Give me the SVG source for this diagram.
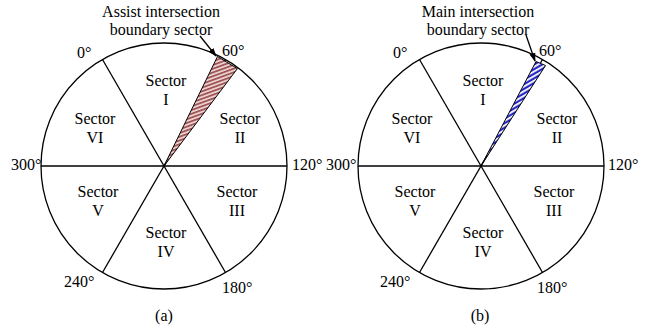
<svg xmlns="http://www.w3.org/2000/svg" width="655" height="331" viewBox="0 0 655 331">
<style>
  text { font-family: "Liberation Serif", "Times New Roman", serif; font-size: 16px; fill: #000; }
  .mid { text-anchor: middle; }
  .ln { stroke: #000; stroke-width: 1.3; fill: none; }
  .wedge { stroke: #000; stroke-width: 1; }
</style>
<defs>
  <pattern id="stripeRed" width="3.5" height="3.5" patternUnits="userSpaceOnUse" patternTransform="rotate(-20)">
    <rect width="3.5" height="3.5" fill="#f1dada"/>
    <rect width="3.5" height="1.9" fill="#a05656"/>
  </pattern>
  <pattern id="checkBlue" width="4" height="4" patternUnits="userSpaceOnUse" patternTransform="rotate(-30)">
    <rect width="4" height="4" fill="#2626c4"/>
    <rect x="0" y="0" width="4" height="1.8" fill="#ffffff"/>
  </pattern>
  <marker id="arr" markerWidth="9" markerHeight="8" refX="8" refY="4" orient="auto" markerUnits="userSpaceOnUse">
    <path d="M0,1 L9,4 L0,7 Z" fill="#000"/>
  </marker>
</defs>

<!-- Diagram (a) -->
<g id="diagram-a">
  <g id="a-circle">
    <circle class="ln" cx="164" cy="166" r="123"/>
    <line class="ln" x1="41" y1="166" x2="287" y2="166"/>
    <line class="ln" x1="102.5" y1="59.5" x2="225.5" y2="272.5"/>
    <line class="ln" x1="225.5" y1="59.5" x2="102.5" y2="272.5"/>
  </g>
  <g id="a-wedge">
    <polygon class="wedge" points="164,166 217.5,56.5 237.4,68.6" fill="url(#stripeRed)"/>
  </g>
  <g id="a-sector1"><text class="mid" x="166" y="86">Sector</text><text class="mid" x="166" y="105">I</text></g>
  <g id="a-sector2"><text class="mid" x="240" y="124">Sector</text><text class="mid" x="240" y="143">II</text></g>
  <g id="a-sector3"><text class="mid" x="237" y="197">Sector</text><text class="mid" x="237" y="216">III</text></g>
  <g id="a-sector4"><text class="mid" x="166" y="238">Sector</text><text class="mid" x="166" y="257">IV</text></g>
  <g id="a-sector5"><text class="mid" x="98" y="197">Sector</text><text class="mid" x="98" y="216">V</text></g>
  <g id="a-sector6"><text class="mid" x="95" y="124">Sector</text><text class="mid" x="95" y="143">VI</text></g>
  <g id="a-angles">
    <text x="77" y="58">0°</text>
    <text x="222" y="56">60°</text>
    <text x="292" y="170">120°</text>
    <text x="222" y="293">180°</text>
    <text x="64" y="287">240°</text>
    <text x="11" y="170">300°</text>
  </g>
  <g id="a-label">
    <text class="mid" x="161" y="17">Assist intersection</text>
    <text class="mid" x="161" y="35">boundary sector</text>
  </g>
  <text id="a-caption" class="mid" x="164" y="321">(a)</text>
</g>

<!-- Diagram (b) -->
<g id="diagram-b">
  <g id="b-circle">
    <circle class="ln" cx="481" cy="166" r="123"/>
    <line class="ln" x1="358" y1="166" x2="604" y2="166"/>
    <line class="ln" x1="419.5" y1="59.5" x2="542.5" y2="272.5"/>
    <line class="ln" x1="542.5" y1="59.5" x2="419.5" y2="272.5"/>
  </g>
  <g id="b-wedge">
    <polygon class="wedge" points="481,166 536,61.5 545.5,65.5" fill="url(#checkBlue)"/>
  </g>
  <g id="b-sector1"><text class="mid" x="483" y="86">Sector</text><text class="mid" x="483" y="105">I</text></g>
  <g id="b-sector2"><text class="mid" x="557" y="124">Sector</text><text class="mid" x="557" y="143">II</text></g>
  <g id="b-sector3"><text class="mid" x="554" y="197">Sector</text><text class="mid" x="554" y="216">III</text></g>
  <g id="b-sector4"><text class="mid" x="483" y="238">Sector</text><text class="mid" x="483" y="257">IV</text></g>
  <g id="b-sector5"><text class="mid" x="415" y="197">Sector</text><text class="mid" x="415" y="216">V</text></g>
  <g id="b-sector6"><text class="mid" x="412" y="124">Sector</text><text class="mid" x="412" y="143">VI</text></g>
  <g id="b-angles">
    <text x="393" y="58">0°</text>
    <text x="539" y="56">60°</text>
    <text x="608" y="170">120°</text>
    <text x="537" y="293">180°</text>
    <text x="380" y="287">240°</text>
    <text x="326" y="170">300°</text>
  </g>
  <g id="b-label">
    <text class="mid" x="478" y="17">Main intersection</text>
    <text class="mid" x="478" y="35">boundary sector</text>
  </g>
  <text id="b-caption" class="mid" x="480" y="321">(b)</text>
</g>

<g id="connectors">
  <line class="ln" x1="200" y1="36" x2="216" y2="56" marker-end="url(#arr)"/>
  <line class="ln" x1="526" y1="35" x2="535" y2="61" marker-end="url(#arr)"/>
</g>
</svg>
